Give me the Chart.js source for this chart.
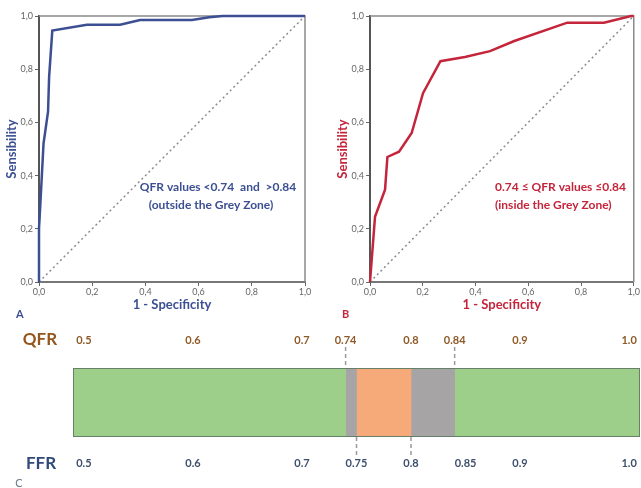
<!DOCTYPE html>
<html><head><meta charset="utf-8">
<script src="https://cdn.jsdelivr.net/npm/chart.js@4.4.0/dist/chart.umd.min.js"></script>
<style>
html,body{margin:0;padding:0;background:#fff;}
#wrap{position:relative;width:641px;height:488px;overflow:hidden;background:#fff;}
canvas{position:absolute;}
</style></head><body>
<div id="wrap">
<canvas id="cA" width="320" height="320" style="left:0;top:0"></canvas>
<canvas id="cB" width="321" height="320" style="left:320px;top:0"></canvas>
<canvas id="cC" width="641" height="168" style="left:0;top:320px"></canvas>
</div>
<script>
// ---------- data ----------
const rocTicks = [0, 0.2, 0.4, 0.6, 0.8, 1.0];
const fprA = [0, 0, 0.006, 0.017, 0.034, 0.038, 0.050, 0.180, 0.305, 0.380, 0.575, 0.640, 0.690, 1.0];
const tprA = [0, 0.20, 0.31, 0.52, 0.64, 0.77, 0.945, 0.967, 0.967, 0.985, 0.985, 0.995, 1.0, 1.0];
const fprB = [0, 0.019, 0.057, 0.066, 0.110, 0.158, 0.201, 0.267, 0.360, 0.455, 0.547, 0.748, 0.887, 0.990, 1.0];
const tprB = [0, 0.245, 0.347, 0.470, 0.490, 0.560, 0.710, 0.830, 0.846, 0.868, 0.906, 0.975, 0.975, 1.0, 1.0];
const refX = [0, 1];
const refY = [0, 1];
const qfrTicks = [0.5, 0.6, 0.7, 0.74, 0.8, 0.84, 0.9, 1.0];
const ffrTicks = [0.5, 0.6, 0.7, 0.75, 0.8, 0.85, 0.9, 1.0];
const zoneNames = ['QFR < 0.74', 'QFR 0.74-0.75', 'FFR 0.75-0.80', 'QFR 0.80-0.84', 'QFR > 0.84'];
const zoneStart = [0.49, 0.74, 0.75, 0.80, 0.84];
const zoneEnd   = [0.74, 0.75, 0.80, 0.84, 1.01];
const qfrCutoffs = [0.74, 0.84];
const ffrCutoffs = [0.75, 0.80];

// ---------- styles ----------
const zoneColors = ['#9dcf8b', '#a7a4a6', '#f6aa79', '#a7a4a6', '#9dcf8b'];
Chart.defaults.font.family = "Lato, 'Open Sans', sans-serif";
Chart.defaults.animation = false;

function comma(v){ return Number(v).toFixed(1).replace('.', ','); }

function makeRoc(id, fpr, tpr, color, yTitlePad, padRight, label, labelX, notes){
  const boxPlugin = {
    id: 'box' + id,
    beforeDatasetsDraw(chart){
      const {ctx, chartArea:a} = chart;
      ctx.save();
      ctx.strokeStyle = '#8a8a8a'; ctx.lineWidth = 1.5;
      ctx.beginPath(); ctx.moveTo(a.left, a.top); ctx.lineTo(a.right, a.top); ctx.lineTo(a.right, a.bottom); ctx.stroke();
      ctx.restore();
    },
    afterDraw(chart){
      const {ctx} = chart;
      ctx.save();
      ctx.fillStyle = color;
      ctx.font = "bold 12px Lato, 'Open Sans', sans-serif";
      ctx.textBaseline = 'middle';
      notes.forEach(n => { ctx.textAlign = n.align; ctx.fillText(n.text, n.x, n.y); });
      ctx.font = "bold 11px Lato, 'Open Sans', sans-serif";
      ctx.textAlign = 'left';
      ctx.fillText(label, labelX, 314);
      ctx.restore();
    }
  };
  return new Chart(document.getElementById(id), {
    type: 'scatter',
    data: { datasets: [
      { data: fpr.map((x,i)=>({x, y: tpr[i]})), showLine: true, borderColor: color, borderWidth: 2.5, pointRadius: 0, clip: false },
      { data: refX.map((x,i)=>({x, y: refY[i]})), showLine: true, borderColor: '#8c8c8c', borderDash: [2,3], borderWidth: 1.5, pointRadius: 0 }
    ]},
    options: {
      responsive: false, devicePixelRatio: 1,
      layout: { padding: { left: 0, right: padRight, top: 16, bottom: 0 } },
      plugins: { legend: { display: false }, tooltip: { enabled: false } },
      scales: {
        x: { type: 'linear', min: 0, max: 1,
          afterBuildTicks: s => { s.ticks = rocTicks.map(v => ({value: v})); },
          ticks: { callback: comma, color: '#666', font: { size: 9 }, padding: 1, maxRotation: 0, autoSkip: false },
          grid: { drawOnChartArea: false, drawTicks: true, tickLength: 4, color: '#666' },
          border: { display: true, color: '#777', width: 2 },
          title: { display: true, text: '1 - Specificity', color: color, font: { size: 13, weight: 'bold' }, padding: { top: 0, bottom: 7 } },
          afterFit: s => { s.height = 38; }
        },
        y: { type: 'linear', min: 0, max: 1,
          afterBuildTicks: s => { s.ticks = rocTicks.map(v => ({value: v})); },
          ticks: { callback: comma, color: '#666', font: { size: 9 }, padding: 2, autoSkip: false },
          grid: { drawOnChartArea: false, drawTicks: true, tickLength: 4, color: '#666' },
          border: { display: true, color: '#555', width: 2 },
          title: { display: true, text: 'Sensibility', color: color, font: { size: 13, weight: 'bold' }, padding: { top: yTitlePad, bottom: 0 } },
          afterFit: s => { s.width = (id === 'cA' ? 39 : 50); }
        }
      }
    },
    plugins: [boxPlugin]
  });
}

makeRoc('cA', fprA, tprA, '#3b4f92', 4, 15, 'A', 16, [
  { text: 'QFR values <0.74  and  >0.84', x: 218, y: 187, align: 'center' },
  { text: '(outside the Grey Zone)', x: 211, y: 205, align: 'center' }
]);
makeRoc('cB', fprB, tprB, '#c4253b', 15, 6, 'B', 22, [
  { text: '0.74 \u2264 QFR values \u22640.84', x: 175, y: 187, align: 'left' },
  { text: '(inside the Grey Zone)', x: 175, y: 205, align: 'left' }
]);

// ---------- panel C ----------
function fmt(v){ return v === 1 ? '1.0' : String(v); }
const zonePlugin = {
  id: 'zone',
  afterDatasetsDraw(chart){
    const {ctx, chartArea:a} = chart;
    const xs = chart.scales.x;
    ctx.save();
    ctx.strokeStyle = '#66806a'; ctx.lineWidth = 1;
    ctx.strokeRect(a.left + 0.5, a.top + 0.5, a.right - a.left - 1, a.bottom - a.top - 1);
    ctx.strokeStyle = '#9a9a9a'; ctx.lineWidth = 1.5; ctx.setLineDash([4,3]);
    qfrCutoffs.forEach(v => { const x = xs.getPixelForValue(v); ctx.beginPath(); ctx.moveTo(x, a.top - 21); ctx.lineTo(x, a.top); ctx.stroke(); });
    ffrCutoffs.forEach(v => { const x = xs.getPixelForValue(v); ctx.beginPath(); ctx.moveTo(x, a.bottom); ctx.lineTo(x, a.bottom + 21); ctx.stroke(); });
    ctx.setLineDash([]);
    ctx.textAlign = 'center'; ctx.textBaseline = 'middle';
    ctx.font = "bold 17px Lato, 'Open Sans', sans-serif";
    ctx.fillStyle = '#95561d'; ctx.fillText('QFR', 40, 20);
    ctx.fillStyle = '#2f4a7a'; ctx.fillText('FFR', 41, 144);
    ctx.font = "11px Lato, 'Open Sans', sans-serif";
    ctx.fillStyle = '#6a7a8a'; ctx.fillText('C', 19, 163);
    ctx.restore();
  }
};
function fixX(h){ return s => { s.height = h; s.paddingLeft = 0; s.paddingRight = 0; }; }
new Chart(document.getElementById('cC'), {
  type: 'bar',
  data: { labels: ['zone'], datasets: zoneNames.map((n,i) => ({
    label: n, data: [[zoneStart[i], zoneEnd[i]]], backgroundColor: zoneColors[i], borderWidth: 0,
    barPercentage: 1, categoryPercentage: 1, grouped: false
  }))},
  options: {
    responsive: false, devicePixelRatio: 1, indexAxis: 'y',
    layout: { padding: { left: 73, right: 1, top: 0, bottom: 0 } },
    plugins: { legend: { display: false }, tooltip: { enabled: false } },
    scales: {
      x: { type: 'linear', position: 'bottom', min: 0.49, max: 1.01,
        afterBuildTicks: s => { s.ticks = ffrTicks.map(v => ({value: v})); },
        ticks: { callback: fmt, color: '#3e4f6c', font: { size: 11, weight: 'bold' }, padding: 20, autoSkip: false, maxRotation: 0 },
        grid: { display: false, drawTicks: false, tickLength: 0 }, border: { display: false },
        afterFit: fixX(51)
      },
      xTop: { type: 'linear', position: 'top', min: 0.49, max: 1.01,
        afterBuildTicks: s => { s.ticks = qfrTicks.map(v => ({value: v})); },
        ticks: { callback: fmt, color: '#8e5a28', font: { size: 11, weight: 'bold' }, padding: 21, autoSkip: false, maxRotation: 0 },
        grid: { display: false, drawTicks: false, tickLength: 0 }, border: { display: false },
        afterFit: fixX(48)
      },
      y: { display: false }
    }
  },
  plugins: [zonePlugin]
});
</script>
</body></html>
